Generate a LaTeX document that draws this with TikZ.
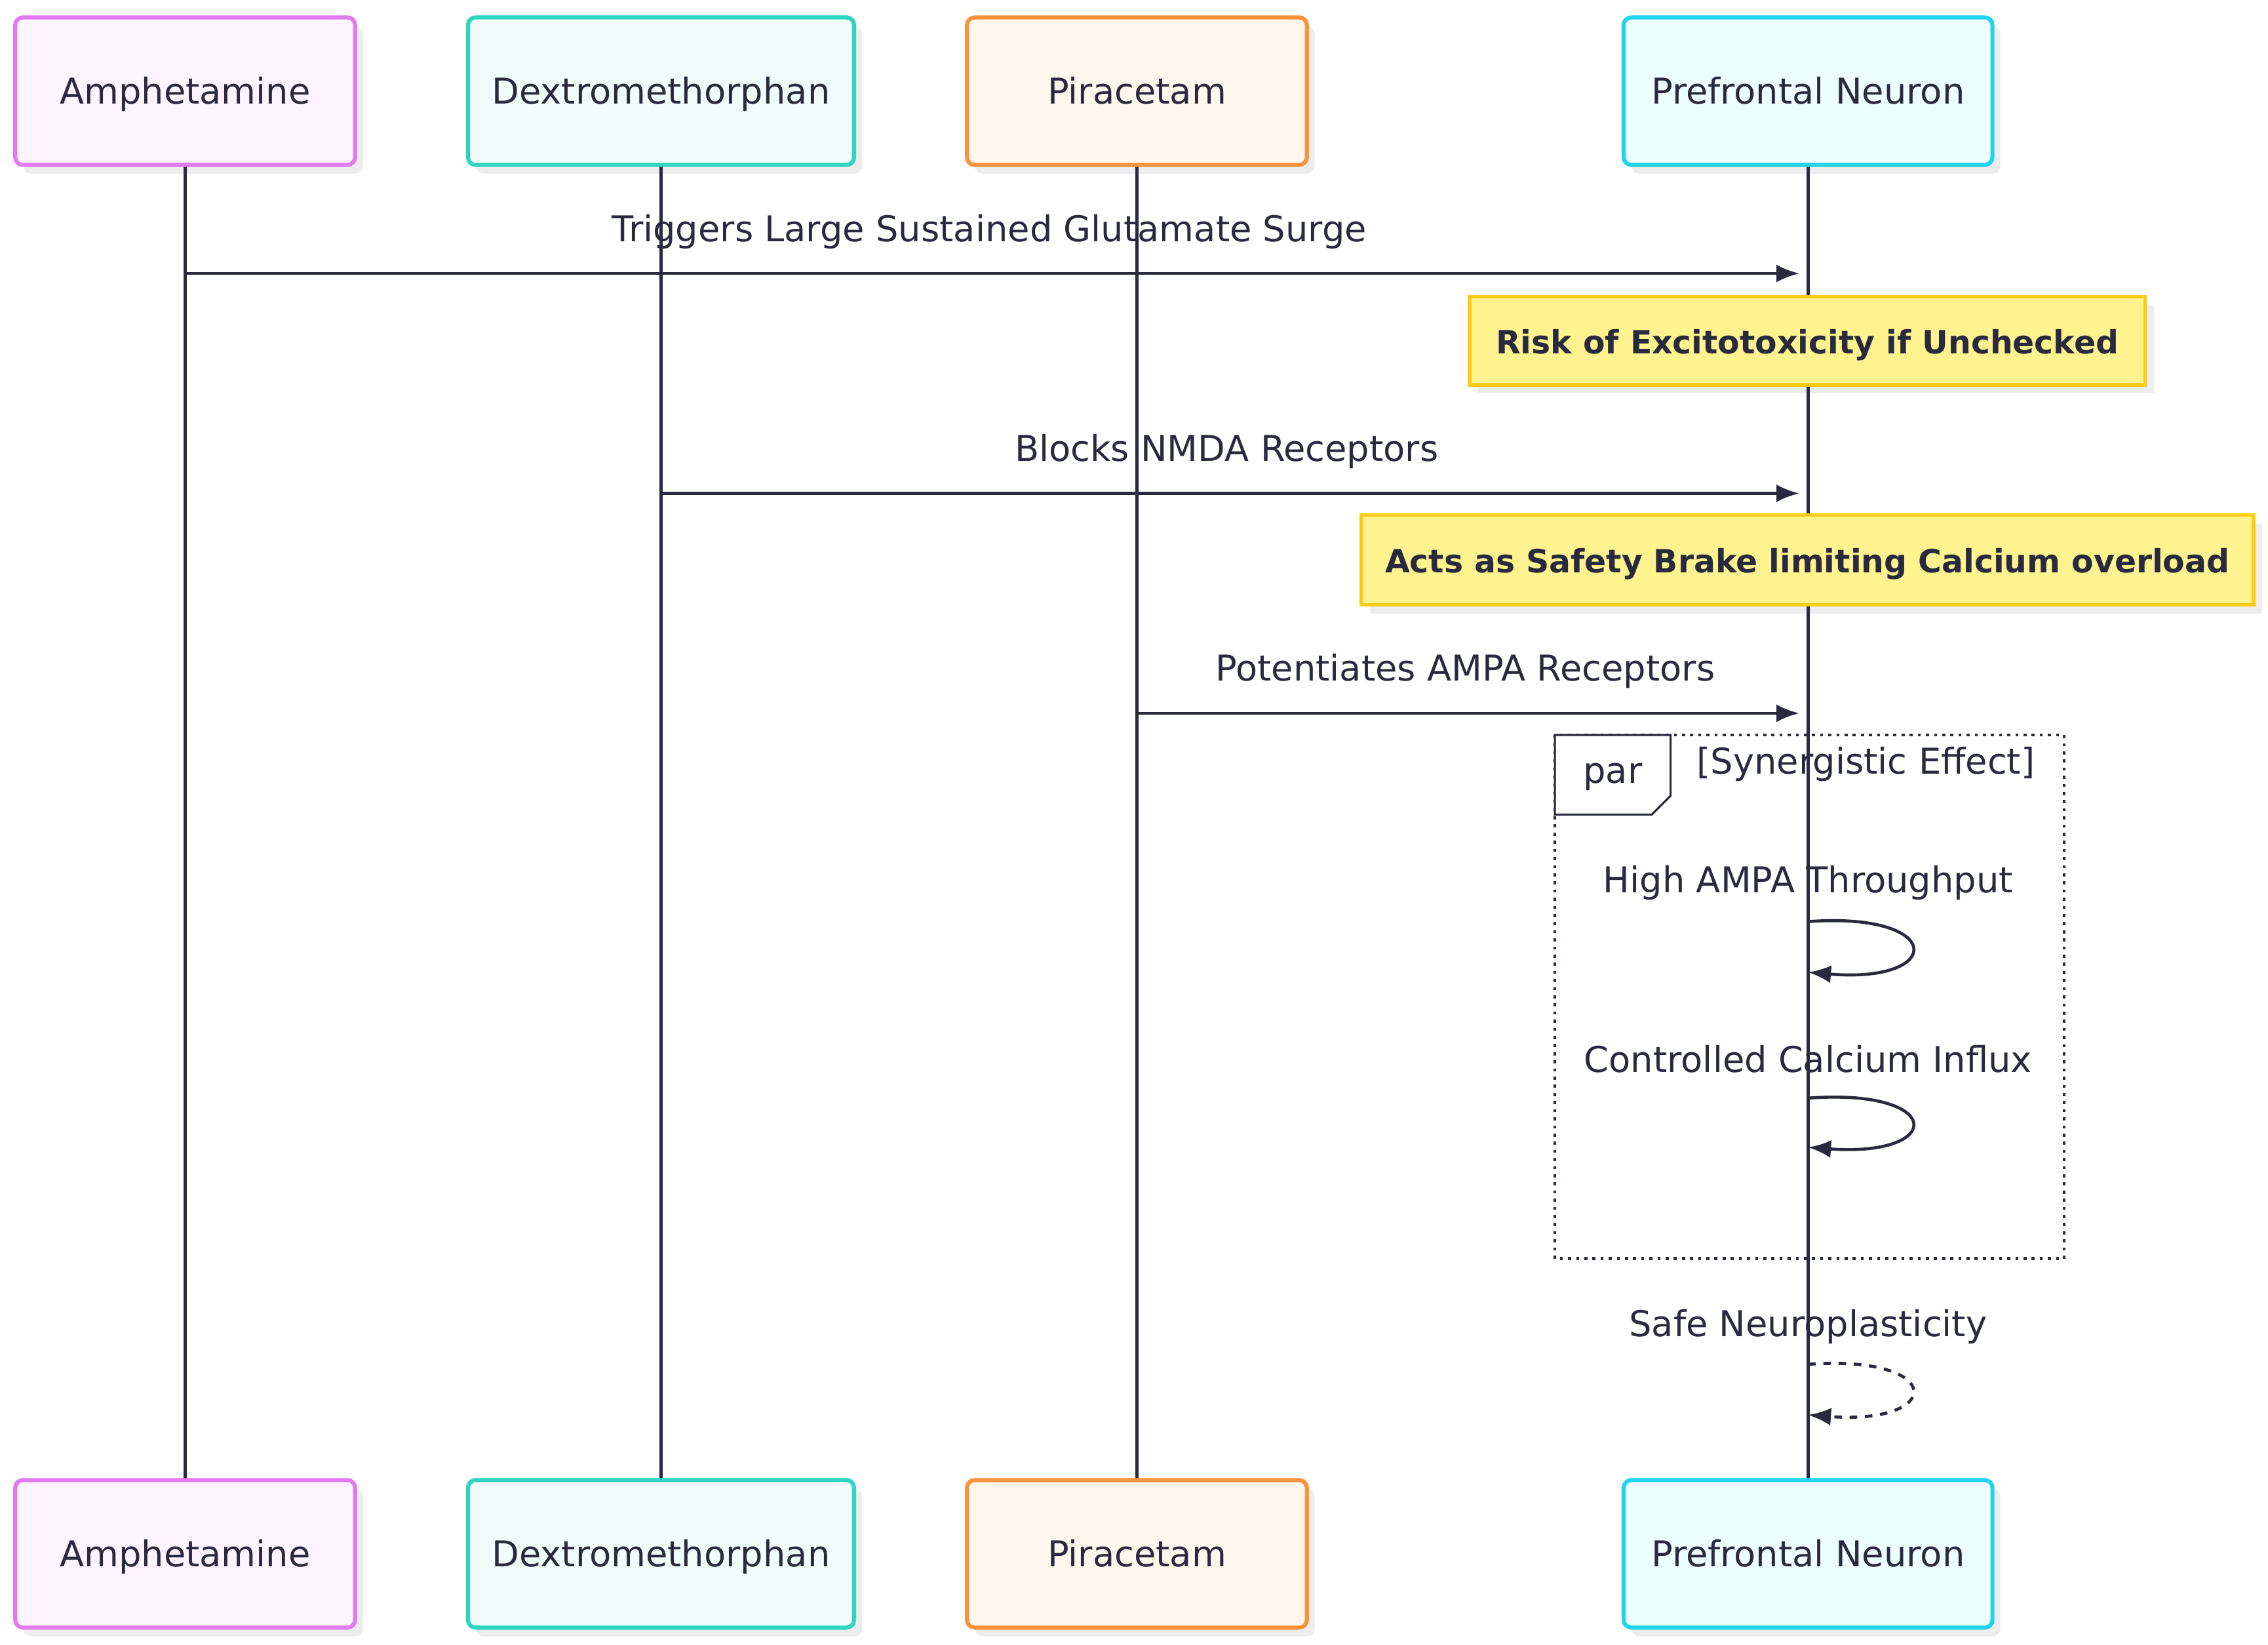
\documentclass[tikz,border=0pt]{standalone}
\usepackage{fontspec}
\setmainfont{DejaVu Sans}
\usetikzlibrary{arrows.meta}
\definecolor{ink}{HTML}{2A2A3E}
\definecolor{cA}{HTML}{E27AF0}\definecolor{fA}{HTML}{FDF4FF}
\definecolor{cB}{HTML}{2DD4BF}\definecolor{fB}{HTML}{F0FDFA}
\definecolor{cC}{HTML}{FB923C}\definecolor{fC}{HTML}{FFF7ED}
\definecolor{cD}{HTML}{22D3EE}\definecolor{fD}{HTML}{ECFEFF}
\definecolor{nF}{HTML}{FEF38F}\definecolor{nD}{HTML}{FACC15}
\begin{document}
\begin{tikzpicture}[x=0.02cm,y=-0.02cm,
  actor/.style={draw=#1,line width=1.6pt,rounded corners=3pt,minimum width=4.7cm,minimum height=2.04cm,font=\fontsize{14}{16}\selectfont,text=ink,text height=12pt,text depth=2pt},
  life/.style={draw=ink,line width=1.2pt},
  msg/.style={draw=ink,line width=1.2pt,-{Latex[length=9pt,width=7pt]}},
  lbl/.style={font=\fontsize{14}{16}\selectfont,text=ink},
  note/.style={draw=nD,fill=nF,line width=1.4pt,font=\bfseries\fontsize{12.6}{15}\selectfont,text=ink,inner sep=0pt,text height=11pt,text depth=1pt}]
\useasboundingbox (0,0) rectangle (1568,1137);
% shadows
\foreach \a/\b in {10/245,323/590,668/903,1122/1377}{
  \fill[black!7,rounded corners=3pt] (\a+6,18) rectangle (\b+6,120);
  \fill[black!7,rounded corners=3pt] (\a+6,1029) rectangle (\b+6,1131);}
\fill[black!7] (1022,211) rectangle (1489,272);
\fill[black!7] (947,362) rectangle (1564,424);
% lifelines
\coordinate (l1) at (128,114); \coordinate (l1b) at (128,1023);
\coordinate (l2) at (457,114); \coordinate (l2b) at (457,1023);
\coordinate (l3) at (786,114); \coordinate (l3b) at (786,1023);
\coordinate (l4) at (1250,114); \coordinate (l4b) at (1250,1023);
\draw[life] (l1)--(l1b); \draw[life] (l2)--(l2b); \draw[life] (l3)--(l3b); \draw[life] (l4)--(l4b);
% actors
\node[actor=cA,fill=fA] (a1) at (128,63) {Amphetamine};
\node[actor=cB,fill=fB,minimum width=5.34cm] (a2) at (457,63) {Dextromethorphan};
\node[actor=cC,fill=fC] (a3) at (786,63) {Piracetam};
\node[actor=cD,fill=fD,minimum width=5.1cm] (a4) at (1250,63) {Prefrontal Neuron};
\node[actor=cA,fill=fA] (b1) at (128,1074) {Amphetamine};
\node[actor=cB,fill=fB,minimum width=5.34cm] (b2) at (457,1074) {Dextromethorphan};
\node[actor=cC,fill=fC] (b3) at (786,1074) {Piracetam};
\node[actor=cD,fill=fD,minimum width=5.1cm] (b4) at (1250,1074) {Prefrontal Neuron};
% messages
\coordinate (m1s) at (128,189); \coordinate (m1e) at (1244,189);
\draw[msg] (m1s)--(m1e);
\node[lbl] (t1) at (684,160) {Triggers Large Sustained Glutamate Surge};
\node[note,minimum width=9.34cm,minimum height=1.22cm] (n1) at (1249.5,235.5) {Risk of Excitotoxicity if Unchecked};
\coordinate (m2s) at (457,341); \coordinate (m2e) at (1244,341);
\draw[msg] (m2s)--(m2e);
\node[lbl] (t2) at (848,312) {Blocks NMDA Receptors};
\node[note,minimum width=12.34cm,minimum height=1.24cm] (n2) at (1249.5,387) {Acts as Safety Brake limiting Calcium overload};
\coordinate (m3s) at (786,493); \coordinate (m3e) at (1244,493);
\draw[msg] (m3s)--(m3e);
\node[lbl] (t3) at (1013,464) {Potentiates AMPA Receptors};
% par box
\draw[ink,line width=1.2pt,dotted] (1075,508) rectangle (1427,870);
\draw[ink,line width=0.8pt,fill=white] (1075,508) -- (1155,508) -- (1155,550) -- (1142,563) -- (1075,563) -- cycle;
\node[lbl] (par) at (1115,537) {par};
\node[lbl] (syn) at (1290,528) {[Synergistic Effect]};
% self loops
\node[lbl] (s1) at (1250,610) {High AMPA Throughput};
\coordinate (p1) at (1250,637); \coordinate (q1) at (1250,672);
\draw[msg] (p1) .. controls (1345,630) and (1345,680) .. (q1);
\node[lbl] (s2) at (1250,732) {Controlled Calcium Influx};
\coordinate (p2) at (1250,759); \coordinate (q2) at (1250,793);
\draw[msg] (p2) .. controls (1345,752) and (1345,800) .. (q2);
\node[lbl] (s3) at (1250,917) {Safe Neuroplasticity};
\coordinate (p3) at (1250,943); \coordinate (q3) at (1250,978);
\draw[msg,dash pattern=on 3pt off 3pt] (p3) .. controls (1345,936) and (1345,985) .. (q3);
\end{tikzpicture}
\end{document}
